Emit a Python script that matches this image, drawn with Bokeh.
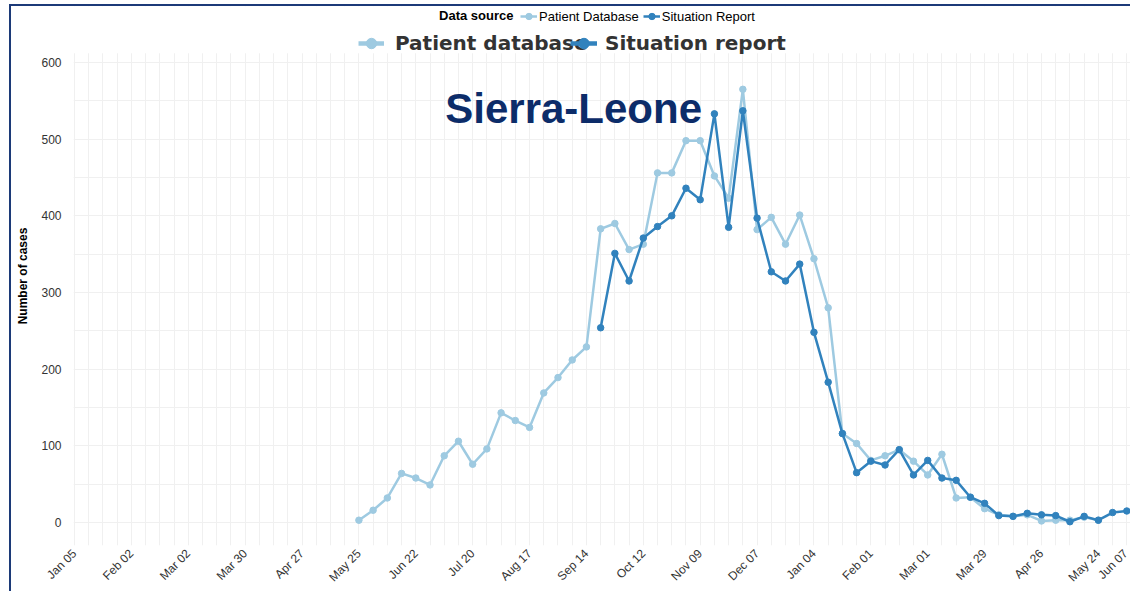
import numpy as np
import pandas as pd
from bokeh.plotting import figure
from bokeh.models import (ColumnDataSource, Legend, LegendItem, FixedTicker,
                          DatetimeTickFormatter, Label, Range1d, BoxAnnotation)
from bokeh.embed import file_html
from bokeh.resources import INLINE

# ---------------- data ----------------
patient_db_start = "2014-05-25"
patient_db = [3, 16, 32, 64, 58, 49, 87, 106, 76, 96,
              143, 133, 124, 169, 189, 212, 229, 383, 390, 356,
              363, 456, 456, 498, 498, 452, 423, 565, 382, 398,
              363, 401, 344, 280, 116, 103, 81, 87, 95, 80,
              62, 89, 32, 33, 18, 10, 8, 10, 2, 3,
              3, 7, 3]
sitrep_start = "2014-09-21"
sitrep = [254, 351, 315, 371, 386, 400, 436, 421, 533, 385,
          537, 397, 327, 315, 337, 248, 183, 116, 65, 80,
          75, 95, 62, 81, 58, 55, 33, 25, 9, 8,
          12, 10, 9, 1, 8, 3, 13, 15]
tick_dates = ["2014-01-05", "2014-02-02", "2014-03-02", "2014-03-30", "2014-04-27",
              "2014-05-25", "2014-06-22", "2014-07-20", "2014-08-17", "2014-09-14",
              "2014-10-12", "2014-11-09", "2014-12-07", "2015-01-04", "2015-02-01",
              "2015-03-01", "2015-03-29", "2015-04-26", "2015-05-24", "2015-06-07"]
y_ticks = [0, 100, 200, 300, 400, 500, 600]

LIGHT = "#9ecae1"
DARK = "#3182bd"
NAVY = "#0c2c69"
FRAME = "#1c3a78"

def ms(d):
    return pd.Timestamp(d).value / 1e6

src_pd = ColumnDataSource(dict(
    date=pd.date_range(patient_db_start, periods=len(patient_db), freq="7D"),
    cases=patient_db))
src_sr = ColumnDataSource(dict(
    date=pd.date_range(sitrep_start, periods=len(sitrep), freq="7D"),
    cases=sitrep))

week = 7 * 24 * 3600 * 1000
x_start = ms(tick_dates[0]) - 0.07 * week
x_end = ms(tick_dates[0]) + 74.26 * week

p = figure(frame_width=1057, frame_height=539, x_axis_type="datetime",
           output_backend="svg", toolbar_location=None,
           x_range=Range1d(x_start, x_end), y_range=Range1d(-30.0, 673.0),
           min_border_left=62, min_border_right=0, min_border_top=0,
           min_border_bottom=0)
p.styles = {"margin-left": "9px", "margin-top": "4px",
            "border-left": "2px solid " + FRAME, "border-top": "2px solid " + FRAME}
p.outline_line_color = None
p.background_fill_color = "white"
p.border_fill_color = "white"

# grid
p.xgrid.ticker = FixedTicker(ticks=[ms(d) for d in pd.date_range(tick_dates[0], tick_dates[-1], freq="7D")])
p.ygrid.ticker = FixedTicker(ticks=list(range(0, 601, 50)))
p.xgrid.grid_line_color = "#f0f0f0"
p.ygrid.grid_line_color = "#f0f0f0"
p.add_layout(BoxAnnotation(bottom=612, fill_color="white", fill_alpha=1.0,
                           line_color=None, level="underlay"))

# axes
p.xaxis.ticker = FixedTicker(ticks=[ms(d) for d in tick_dates])
fmt = "%b %d"
p.xaxis.formatter = DatetimeTickFormatter(milliseconds=fmt, seconds=fmt, minsec=fmt, minutes=fmt,
                                          hourmin=fmt, hours=fmt, days=fmt, months=fmt, years=fmt)
p.xaxis.major_label_orientation = np.pi / 4
p.yaxis.ticker = FixedTicker(ticks=y_ticks)
for ax in (p.xaxis, p.yaxis):
    ax.axis_line_color = None
    ax.major_tick_line_color = None
    ax.minor_tick_line_color = None
    ax.major_tick_out = 0
    ax.major_tick_in = 0
    ax.minor_tick_out = 0
    ax.minor_tick_in = 0
    ax.major_label_text_font = "Liberation Sans"
    ax.major_label_text_font_size = "12px"
    ax.major_label_text_color = "#333333"
p.yaxis.major_label_standoff = 12
p.xaxis.major_label_standoff = 6
p.yaxis.axis_label = "Number of cases"
p.yaxis.axis_label_text_font = "Liberation Sans"
p.yaxis.axis_label_text_font_style = "bold"
p.yaxis.axis_label_text_font_size = "12px"
p.yaxis.axis_label_text_color = "#000000"
p.yaxis.axis_label_standoff = 8

# series
l1 = p.line("date", "cases", source=src_pd, line_color=LIGHT, line_width=2.5)
c1 = p.scatter("date", "cases", source=src_pd, size=6.5, color=LIGHT)
l2 = p.line("date", "cases", source=src_sr, line_color=DARK, line_width=2.5)
c2 = p.scatter("date", "cases", source=src_sr, size=6.5, color=DARK)

# legend proxies (not drawn) for the large legend
nan_src = ColumnDataSource(dict(x=[np.nan], y=[np.nan]))
pl1 = p.line("x", "y", source=nan_src, line_color=LIGHT, line_width=4.5)
pc1 = p.scatter("x", "y", source=nan_src, color=LIGHT)
pl2 = p.line("x", "y", source=nan_src, line_color=DARK, line_width=4.5)
pc2 = p.scatter("x", "y", source=nan_src, color=DARK)

big_kw = dict(orientation="horizontal",
              label_text_font="DejaVu Sans", label_text_font_style="bold",
              label_text_font_size="20px", label_text_color="#333333",
              glyph_height=26, padding=0, margin=0,
              background_fill_alpha=0, border_line_color=None)
big_a = Legend(items=[LegendItem(label="Patient database", renderers=[pl1, pc1])],
               location=(285, 489), glyph_width=26, label_standoff=11, **big_kw)
big_b = Legend(items=[LegendItem(label="Situation report", renderers=[pl2, pc2])],
               location=(497, 489), glyph_width=27, label_standoff=8, **big_kw)
p.add_layout(big_a)
p.add_layout(big_b)

small = Legend(items=[LegendItem(label="Patient Database", renderers=[l1, c1]),
                      LegendItem(label="Situation Report", renderers=[l2, c2])],
               orientation="horizontal", location=(447, 521),
               label_text_font="Liberation Sans", label_text_font_size="13px",
               label_text_color="#000000", glyph_width=17, glyph_height=16,
               label_standoff=2, spacing=4, padding=0, margin=0,
               background_fill_alpha=0, border_line_color=None)
p.add_layout(small)

p.add_layout(Label(x=ms(tick_dates[0]) + 30.87 * week, y=661, text="Data source",
                   text_font="Liberation Sans", text_font_style="bold",
                   text_font_size="13px", text_color="#000000",
                   text_align="right", text_baseline="middle"))

# title
p.add_layout(Label(x=ms(tick_dates[0]) + 35.1 * week, y=540, text="Sierra-Leone",
                   text_font="Liberation Sans", text_font_style="bold",
                   text_font_size="42px", text_color=NAVY,
                   text_align="center", text_baseline="alphabetic"))

open("out.html", "w").write(file_html(p, INLINE))
